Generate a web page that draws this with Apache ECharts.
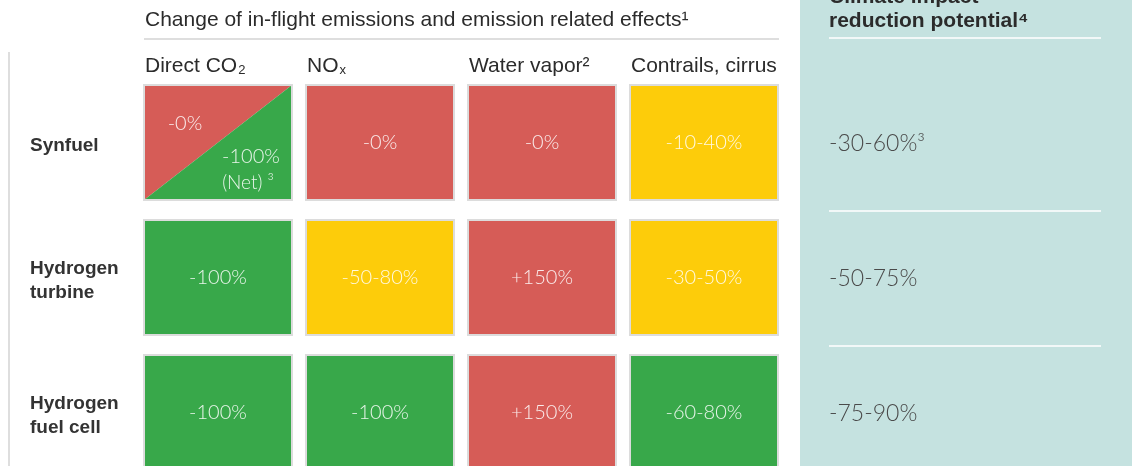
<!DOCTYPE html>
<html><head><meta charset="utf-8">
<script src="https://cdn.jsdelivr.net/npm/echarts@6/dist/echarts.min.js"></script>
<style>html,body{margin:0;padding:0;background:#fff}#c{width:1132px;height:466px}</style>
</head><body><div id="c"></div>
<script>
const rows = ['Synfuel', 'Hydrogen\nturbine', 'Hydrogen\nfuel cell'];
const columns = ['Direct CO2', 'NOx', 'Water vapor', 'Contrails, cirrus'];
const columnLabels = ['{t|Direct CO}{s|2}', '{t|NO}{s|x}', '{t|Water vapor²}', '{t|Contrails, cirrus}'];
const cellValues = [
  ['-0%', '-0%', '-0%', '-10-40%'],
  ['-100%', '-50-80%', '+150%', '-30-50%'],
  ['-100%', '-100%', '+150%', '-60-80%']
];
const cellRatings = [
  ['red', 'red', 'red', 'yellow'],
  ['green', 'yellow', 'red', 'yellow'],
  ['green', 'green', 'red', 'green']
];
const synfuelNetCO2 = { value: '-100%', note: '(Net) ³', rating: 'green' };
const reductionPotential = ['-30-60%³', '-50-75%', '-75-90%'];
const headerTitle = 'Change of in-flight emissions and emission related effects¹';
const panelTitle = 'Climate impact\nreduction potential⁴';

const palette = { red: '#d65c57', green: '#38a84a', yellow: '#fdcc0a' };
const cellFont = 'Lato, "Liberation Sans", sans-serif';
const sansFont = '"Liberation Sans", Arial, sans-serif';
const textCol = 'rgba(255,255,255,0.88)';

const cellData = [];
cellValues.forEach((r, ri) => r.forEach((v, ci) => cellData.push([ci, ri, v, cellRatings[ri][ci]])));

const chart = echarts.init(document.getElementById('c'));

function renderCell(params, api) {
  const ci = api.value(0), ri = api.value(1);
  const c = api.coord([ci, ri]);
  const s = api.size([1, 1]);
  const w = s[0] - 14, h = s[1] - 20;
  const x0 = c[0] - w / 2, y0 = c[1] - h / 2, x1 = x0 + w, y1 = y0 + h;
  const d = cellData[params.dataIndex];
  const children = [];
  if (ri === 0 && ci === 0) {
    children.push({ type: 'polygon', shape: { points: [[x0, y0], [x1, y0], [x0, y1]] }, style: { fill: palette[d[3]] } });
    children.push({ type: 'polygon', shape: { points: [[x1, y0], [x1, y1], [x0, y1]] }, style: { fill: palette[synfuelNetCO2.rating] } });
    children.push({ type: 'rect', shape: { x: x0, y: y0, width: w, height: h }, style: { fill: null, stroke: '#dcdcdc', lineWidth: 2 } });
    children.push({ type: 'text', style: { x: x0 + 41, y: y0 + 39, text: d[2], fill: textCol, font: '300 20px ' + cellFont, align: 'center', verticalAlign: 'middle' } });
    children.push({ type: 'text', style: { x: x0 + 107, y: y0 + 72, text: synfuelNetCO2.value, fill: textCol, font: '300 20px ' + cellFont, align: 'center', verticalAlign: 'middle' } });
    children.push({ type: 'text', style: { x: x0 + 104, y: y0 + 98, text: synfuelNetCO2.note, fill: textCol, font: '300 19px ' + cellFont, align: 'center', verticalAlign: 'middle' } });
  } else {
    children.push({ type: 'rect', shape: { x: x0, y: y0, width: w, height: h }, style: { fill: palette[d[3]], stroke: '#dcdcdc', lineWidth: 2 } });
    children.push({ type: 'text', style: { x: c[0], y: c[1], text: d[2], fill: textCol, font: '300 20px ' + cellFont, align: 'center', verticalAlign: 'middle' } });
  }
  return { type: 'group', children: children };
}

function renderHeader(params, api) {
  const ci = api.value(0);
  const c = api.coord([ci, 0]);
  const s = api.size([1, 1]);
  const top = params.coordSys.y;
  return {
    type: 'text',
    style: {
      x: c[0] - s[0] / 2 + 8, y: top + 2,
      text: columnLabels[ci],
      align: 'left', verticalAlign: 'bottom',
      rich: {
        t: { fontSize: 21, fontFamily: sansFont, fill: '#2b2b2b', verticalAlign: 'bottom', lineHeight: 22 },
        s: { fontSize: 13, fontFamily: sansFont, fill: '#2b2b2b', verticalAlign: 'bottom', lineHeight: 9, padding: [0, 0, 0, 1] }
      }
    }
  };
}

function renderPanel(params, api) {
  const ri = api.value(1);
  const c = api.coord([0, ri]);
  const s = api.size([1, 1]);
  const x = params.coordSys.x + 29;
  const children = [{
    type: 'text', style: { x: x, y: c[1] + 1, text: reductionPotential[ri], fill: '#4a4a4a', font: '300 23px ' + cellFont, align: 'left', verticalAlign: 'middle' }
  }];
  if (ri > 0) {
    const yt = c[1] - s[1] / 2;
    children.push({ type: 'line', shape: { x1: x, y1: yt + 1, x2: x + 272, y2: yt + 1 }, style: { stroke: '#f2f8f8', lineWidth: 2 } });
  }
  return { type: 'group', children: children };
}

chart.setOption({
  animation: false,
  backgroundColor: '#ffffff',
  graphic: [
    { type: 'rect', shape: { x: 800, y: 0, width: 332, height: 466 }, style: { fill: '#c5e2e0' }, z: -10 },
    { type: 'line', shape: { x1: 9, y1: 52, x2: 9, y2: 466 }, style: { stroke: '#dedede', lineWidth: 2 } },
    { type: 'line', shape: { x1: 144, y1: 39, x2: 779, y2: 39 }, style: { stroke: '#dedede', lineWidth: 2 } },
    { type: 'line', shape: { x1: 829, y1: 38, x2: 1101, y2: 38 }, style: { stroke: '#f2f8f8', lineWidth: 2 } },
    { type: 'text', left: 145, top: 10, style: { text: headerTitle, font: '21px ' + sansFont, fill: '#2b2b2b' } },
    { type: 'text', left: 829, top: -15, style: { text: panelTitle, font: 'bold 21px ' + sansFont, fill: '#2b2b2b', lineHeight: 24 } }
  ],
  grid: [
    { left: 137, top: 75, width: 648, height: 405, outerBoundsMode: 'none', containLabel: false },
    { left: 800, top: 75, width: 332, height: 405, outerBoundsMode: 'none', containLabel: false },
    { left: 137, top: 78, width: 648, height: 405, outerBoundsMode: 'none', containLabel: false }
  ],
  xAxis: [
    { type: 'category', gridIndex: 0, data: columns, position: 'top', axisLine: { show: false }, axisTick: { show: false }, axisLabel: { show: false }, splitLine: { show: false } },
    { type: 'category', gridIndex: 1, data: ['potential'], show: false },
    { type: 'category', gridIndex: 2, data: columns, show: false }
  ],
  yAxis: [
    { type: 'category', gridIndex: 0, data: rows, inverse: true, show: false },
    { type: 'category', gridIndex: 1, data: rows, inverse: true, show: false },
    { type: 'category', gridIndex: 2, data: rows, inverse: true, axisLine: { show: false }, axisTick: { show: false }, splitLine: { show: false },
      axisLabel: { align: 'left', margin: 107, fontSize: 19, fontWeight: 'bold', color: '#333', fontFamily: sansFont, lineHeight: 24 } }
  ],
  series: [
    { type: 'custom', xAxisIndex: 0, yAxisIndex: 0, data: cellData, renderItem: renderCell, silent: true },
    { type: 'custom', xAxisIndex: 0, yAxisIndex: 0, data: columns.map((c, i) => [i, 0]), renderItem: renderHeader, silent: true, clip: false },
    { type: 'custom', xAxisIndex: 1, yAxisIndex: 1, data: reductionPotential.map((v, i) => [0, i]), renderItem: renderPanel, silent: true }
  ]
});
</script></body></html>
